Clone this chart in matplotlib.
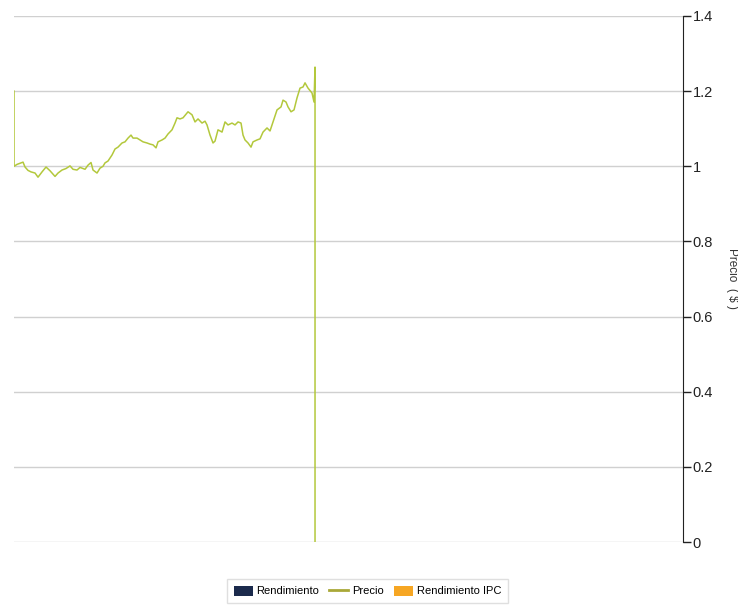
import matplotlib
matplotlib.use("Agg")
import matplotlib.pyplot as plt
from matplotlib.patches import Patch
from matplotlib.lines import Line2D

plt.rcParams['font.family'] = ['Liberation Sans Narrow', 'Liberation Sans', 'DejaVu Sans']

# day index and price
dias = [0, 0, 3, 6, 9, 11, 14, 17, 21, 24, 28, 32, 36, 41, 44, 48, 52, 56, 59, 63,
        66, 71, 74, 77, 79, 83, 86, 89, 91, 94, 98, 101, 104, 108, 111, 114, 117, 119,
        123, 126, 129, 133, 136, 139, 142, 144, 148, 151, 154, 158, 161, 163, 166, 169,
        174, 178, 181, 184, 188, 191, 193, 196, 199, 201, 204, 208, 211, 214, 218, 221,
        224, 227, 229, 231, 234, 237, 239, 243, 246, 249, 253, 256, 259, 263, 267, 269,
        272, 274, 277, 280, 283, 286, 289, 291, 294, 298, 300, 301, 301]
precio = [1.200, 1.000, 1.005, 1.008, 1.011, 0.998, 0.989, 0.985, 0.982, 0.971, 0.985,
          0.998, 0.988, 0.973, 0.982, 0.990, 0.994, 1.001, 0.992, 0.990, 0.997, 0.992,
          1.003, 1.010, 0.990, 0.982, 0.995, 1.000, 1.009, 1.014, 1.030, 1.046, 1.051,
          1.062, 1.065, 1.075, 1.083, 1.075, 1.075, 1.070, 1.065, 1.062, 1.059, 1.057,
          1.049, 1.065, 1.070, 1.075, 1.086, 1.097, 1.115, 1.129, 1.126, 1.129, 1.145,
          1.137, 1.118, 1.126, 1.115, 1.120, 1.110, 1.083, 1.062, 1.067, 1.097, 1.091,
          1.118, 1.110, 1.115, 1.110, 1.118, 1.115, 1.083, 1.070, 1.062, 1.051, 1.065,
          1.070, 1.073, 1.091, 1.102, 1.094, 1.118, 1.150, 1.158, 1.176, 1.171, 1.158,
          1.145, 1.150, 1.182, 1.208, 1.211, 1.222, 1.208, 1.195, 1.171, 1.264, 0.0]
dias_total = 669
yticks = [0, 0.2, 0.4, 0.6, 0.8, 1, 1.2, 1.4]

fig = plt.figure(figsize=(7.38, 6.05), dpi=100)
ax = fig.add_axes([0.019, 0.1041, 0.9065, 0.8695])

ax.plot(dias, precio, color='#b3c83c', linewidth=1.1, zorder=3)

ax.set_xlim(0, dias_total)
ax.set_ylim(0, 1.4)
ax.set_xticks([])
ax.set_yticks(yticks)
ax.set_yticklabels([("%g" % t) for t in yticks])
ax.yaxis.tick_right()
ax.yaxis.set_label_position("right")
ax.tick_params(axis='y', direction='out', length=6, width=1, colors='#222222',
               labelsize=10.5, pad=1)
ax.grid(axis='y', color='#d0d0d0', linewidth=1)
ax.set_axisbelow(True)
for lado in ['left', 'top', 'bottom']:
  ax.spines[lado].set_visible(False)
ax.spines['right'].set_color('#222222')
ax.set_ylabel("Precio  ( $ )", rotation=270, labelpad=14, fontsize=8.5, color='#333333')
ax.yaxis.set_label_coords(1.082, 0.50)

handles = [Patch(facecolor='#1b2a4c', edgecolor='none'),
           Line2D([0], [0], color='#a9a838', linewidth=2),
           Patch(facecolor='#f6a623', edgecolor='none')]
leg = fig.legend(handles, ["Rendimiento", "Precio", "Rendimiento IPC"],
                 loc='center', bbox_to_anchor=(0.498, 0.023), ncol=3, fontsize=8,
                 frameon=True, fancybox=False, handlelength=1.7, handleheight=1.0,
                 columnspacing=0.9, handletextpad=0.35, borderpad=0.6)
leg.get_frame().set_edgecolor('#d8d8d8')
leg.get_frame().set_linewidth(1)

fig.savefig("out.png", dpi=100)
